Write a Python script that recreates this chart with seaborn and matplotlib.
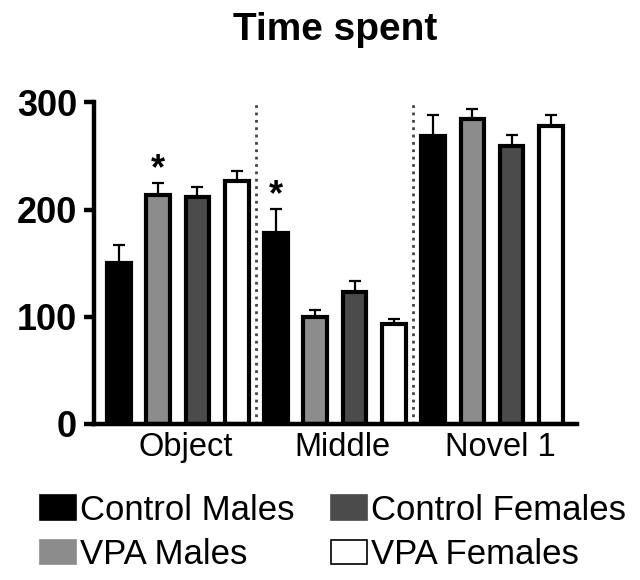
import matplotlib
matplotlib.use('Agg')
import matplotlib.pyplot as plt
import pandas as pd
import seaborn as sns
from matplotlib.container import BarContainer
from matplotlib.patches import Patch
from matplotlib.transforms import ScaledTranslation

# Zones and groups
zones = ['Object', 'Middle', 'Novel 1']
groups = ['Control Males', 'VPA Males', 'Control Females', 'VPA Females']
colors = ['#000000', '#8c8c8c', '#4b4b4b', '#ffffff']

# Mean time spent per zone (order as zones)
control_males = [150, 178, 269]
vpa_males = [214, 100, 285]
control_females = [212, 123, 259]
vpa_females = [227, 93, 278]

# Upper error (SEM)
control_males_sem = [17, 23, 19]
vpa_males_sem = [11, 6, 9]
control_females_sem = [9, 10, 11]
vpa_females_sem = [9, 5, 10]

# Significance stars (zone, group)
stars = [('Object', 'VPA Males'), ('Middle', 'Control Males')]

means = [control_males, vpa_males, control_females, vpa_females]
sems = [control_males_sem, vpa_males_sem, control_females_sem, vpa_females_sem]

df = pd.DataFrame({
    'zone': [z for g in groups for z in zones],
    'group': [g for g in groups for z in zones],
    'time': [v for m in means for v in m],
})

sns.set_style('ticks')
plt.rcParams['font.family'] = ['Liberation Sans', 'DejaVu Sans']
plt.rcParams.update({'text.color': 'black', 'axes.edgecolor': 'black',
                     'xtick.color': 'black', 'ytick.color': 'black',
                     'axes.labelcolor': 'black'})

fig = plt.figure(figsize=(6.4, 5.8), dpi=100)
ax = fig.add_axes([0.1464, 0.269, 0.7552, 0.5543])

sns.barplot(data=df, x='zone', y='time', hue='group', order=zones, hue_order=groups,
            palette=colors, width=1.0, gap=0.4, edgecolor='black', linewidth=3,
            saturation=1, errorbar=None, legend=False, ax=ax)

# error bars (upper only) and stars, placed on the drawn bars
bar_groups = [c for c in ax.containers if isinstance(c, BarContainer)]
for gi, bars in enumerate(bar_groups):
    for bar in bars:
        xc = bar.get_x() + bar.get_width() / 2
        zi = int(round(xc))
        h = bar.get_height()
        err = sems[gi][zi]
        ax.errorbar(xc, h, yerr=[[0], [err]], fmt='none', ecolor='black',
                    elinewidth=1.6, capsize=4, capthick=1.6, zorder=0.9)
        if (zones[zi], groups[gi]) in stars:
            ax.text(xc, h + err + 3, '*', ha='center', va='baseline',
                    fontsize=26, fontweight='bold')

# zone separators
for xs in [0.5, 1.5]:
    ax.axvline(xs, color='#444444', linestyle=':', linewidth=2, zorder=0.5)

ax.set_xlim(-0.536, 2.542)
ax.set_ylim(0, 300)
ax.set_yticks([0, 100, 200, 300])
ax.set_xlabel('')
ax.set_ylabel('')
ax.set_title('Time spent', fontsize=28, fontweight='bold', pad=45)

sns.despine(ax=ax)
for s in ['left', 'bottom']:
    ax.spines[s].set_linewidth(3.2)
ax.tick_params(axis='y', labelsize=26, width=3.2, length=7, pad=5)
ax.tick_params(axis='x', labelsize=23.5, length=0, pad=6)
for lab in ax.get_yticklabels():
    lab.set_fontweight('bold')
shift = ScaledTranslation(8 / 100, 0, fig.dpi_scale_trans)
for lab in ax.get_xticklabels():
    lab.set_transform(lab.get_transform() + shift)

handles = [Patch(facecolor=c, edgecolor='black' if c == '#ffffff' else c, linewidth=1.2)
           for c in colors]
fig.legend(handles, groups, loc='upper left', bbox_to_anchor=(40 / 640, 1 - 494 / 580),
           ncol=2, frameon=False, fontsize=25, handlelength=1.05, handleheight=0.72,
           handletextpad=0.1, columnspacing=1.05, labelspacing=0.32,
           borderpad=0, borderaxespad=0)

fig.savefig('out.png', dpi=100)
